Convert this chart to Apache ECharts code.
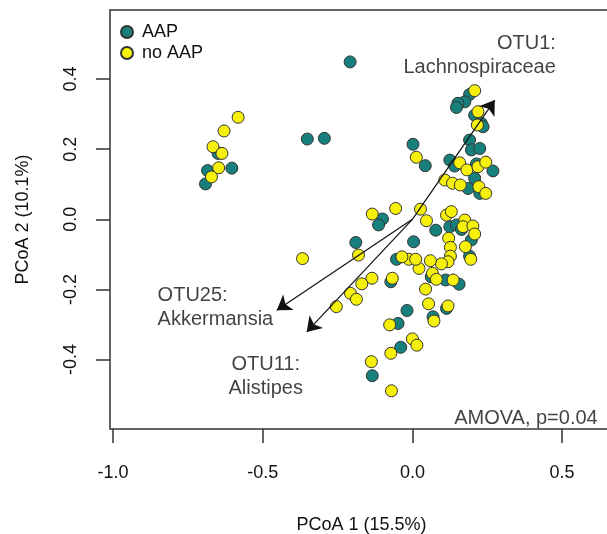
<!DOCTYPE html>
<html>
<head>
<meta charset="utf-8">
<script src="https://cdn.jsdelivr.net/npm/echarts@6/dist/echarts.min.js"></script>
<style>
  html, body { margin: 0; padding: 0; background: #fff; }
  #chart { width: 607px; height: 534px; }
</style>
</head>
<body>
<div id="chart"></div>
<script>
// PCoA coordinates, group AAP
var aapPoints = [
  [-0.208, 0.449], [-0.649, 0.188], [-0.684, 0.139], [-0.603, 0.146], [-0.691, 0.101],
  [-0.351, 0.229], [-0.294, 0.231], [0.191, 0.356], [0.175, 0.335], [0.152, 0.331],
  [0.147, 0.319], [0.208, 0.297], [0.230, 0.274], [0.236, 0.264], [0.191, 0.226],
  [0.197, 0.198], [0.225, 0.202], [0.002, 0.214], [0.043, 0.153], [0.125, 0.169],
  [0.141, 0.152], [0.214, 0.158], [0.269, 0.138], [0.208, 0.117], [0.186, 0.088],
  [0.225, 0.074], [0.078, -0.031], [0.004, -0.064], [0.125, -0.021], [0.147, -0.016],
  [0.164, -0.029], [0.197, -0.059], [0.191, -0.105], [0.063, -0.164], [0.111, -0.173],
  [0.156, -0.185], [0.114, -0.254], [0.069, -0.278], [-0.018, -0.260], [-0.100, 0.001],
  [-0.113, -0.016], [-0.189, -0.066], [-0.053, -0.114], [-0.072, -0.178], [-0.048, -0.297],
  [-0.039, -0.365], [-0.134, -0.446]
];
// PCoA coordinates, group no AAP
var noAapPoints = [
  [-0.582, 0.291], [-0.629, 0.252], [-0.666, 0.207], [-0.636, 0.188], [-0.647, 0.147],
  [-0.671, 0.121], [0.208, 0.367], [0.219, 0.307], [0.217, 0.269], [0.013, 0.177],
  [0.158, 0.161], [0.182, 0.141], [0.219, 0.150], [0.245, 0.163], [0.108, 0.112],
  [0.134, 0.103], [0.160, 0.098], [0.222, 0.093], [0.245, 0.074], [0.027, 0.029],
  [0.047, -0.004], [0.114, 0.012], [0.130, 0.022], [0.175, -0.002], [0.169, -0.021],
  [0.202, -0.019], [0.208, -0.042], [0.121, -0.054], [0.127, -0.080], [0.177, -0.078],
  [0.127, -0.105], [0.195, -0.114], [0.119, -0.121], [0.097, -0.127], [0.060, -0.118],
  [0.022, -0.140], [-0.012, -0.114], [0.011, -0.114], [-0.035, -0.107], [0.067, -0.154],
  [0.080, -0.171], [0.136, -0.173], [0.044, -0.199], [0.054, -0.241], [0.119, -0.247],
  [0.072, -0.290], [0.000, -0.341], [-0.134, 0.015], [-0.056, 0.031], [-0.180, -0.102],
  [-0.367, -0.112], [-0.067, -0.168], [-0.135, -0.168], [-0.169, -0.184], [-0.207, -0.211],
  [-0.187, -0.228], [-0.254, -0.249], [-0.076, -0.301], [-0.072, -0.382], [0.015, -0.359],
  [-0.137, -0.406], [-0.070, -0.489]
];
// OTU loading arrows (tip coordinates, start at origin)
var arrowTips = [[0.275, 0.340], [-0.453, -0.259], [-0.353, -0.321]];
// annotation texts and anchors
var noteTexts = ['OTU1:\nLachnospiraceae', 'OTU25:\nAkkermansia', 'OTU11:\nAlistipes', 'AMOVA, p=0.04'];
var noteAnchors = [[0.479, 0.468], [-0.851, -0.251], [-0.490, -0.449], [0.619, -0.567]];
var notePos = ['left', 'right', 'inside', 'left'];
var xTicks = [-1.0, -0.5, 0.0, 0.5];
var yTicks = [-0.4, -0.2, 0.0, 0.2, 0.4];

var FONT = 'Liberation Sans';
var myChart = echarts.init(document.getElementById('chart'));

var arrowData = arrowTips.map(function (t) {
  return { coords: [[0, 0], t] };
});
var noteData = noteAnchors.map(function (a, i) {
  return {
    value: a,
    label: { position: notePos[i], formatter: noteTexts[i] }
  };
});

var option = {
  animation: false,
  textStyle: { fontFamily: FONT },
  grid: {
    left: 110, top: 10, width: 503, height: 419,
    outerBoundsMode: 'none', containLabel: false,
    show: true, borderColor: '#333', borderWidth: 1.5
  },
  legend: {
    left: 115, top: 18, orient: 'vertical',
    itemWidth: 12, itemHeight: 12, itemGap: 3,
    data: ['AAP', 'no AAP'],
    icon: 'circle',
    textStyle: { fontSize: 18, color: '#111', fontFamily: FONT, padding: [0, 0, 0, 4] }
  },
  xAxis: {
    type: 'value', min: -1.01, max: 0.67,
    name: 'PCoA 1 (15.5%)', nameLocation: 'middle', nameGap: 87,
    nameTextStyle: { fontSize: 18, color: '#111', fontFamily: FONT },
    axisLine: { show: false, onZero: false },
    axisTick: { show: true, length: 14, customValues: xTicks, lineStyle: { color: '#333', width: 1.5 } },
    axisLabel: {
      customValues: xTicks, margin: 35, fontSize: 18, color: '#111', fontFamily: FONT,
      formatter: function (v) { return v.toFixed(1); }
    },
    splitLine: { show: false }
  },
  yAxis: {
    type: 'value', min: -0.598, max: 0.597,
    name: 'PCoA 2 (10.1%)', nameLocation: 'middle', nameGap: 78, nameRotate: 90,
    nameTextStyle: { fontSize: 18, color: '#111', fontFamily: FONT },
    axisLine: { show: false, onZero: false },
    axisTick: { show: true, length: 14, customValues: yTicks, lineStyle: { color: '#333', width: 1.5 } },
    axisLabel: {
      customValues: yTicks, margin: 30, rotate: 90, fontSize: 18, color: '#111', fontFamily: FONT,
      formatter: function (v) { return v.toFixed(1); }
    },
    splitLine: { show: false }
  },
  series: [
    {
      name: 'AAP', type: 'scatter', data: aapPoints, symbolSize: 12, z: 3,
      itemStyle: { color: '#17807d', borderColor: '#333', borderWidth: 1, opacity: 1 }
    },
    {
      name: 'no AAP', type: 'scatter', data: noAapPoints, symbolSize: 12, z: 3,
      itemStyle: { color: '#f7f00a', borderColor: '#333', borderWidth: 1, opacity: 1 }
    },
    {
      name: 'arrows', type: 'lines', coordinateSystem: 'cartesian2d', z: 4,
      symbol: ['none', 'arrow'], symbolSize: 14,
      lineStyle: { color: '#111', width: 1.2, opacity: 1 },
      data: arrowData
    },
    {
      name: 'notes', type: 'scatter', symbolSize: 0, z: 5, silent: true,
      label: { show: true, distance: 0, fontSize: 20, lineHeight: 24, color: '#111', fontFamily: FONT },
      data: noteData
    }
  ]
};
myChart.setOption(option);
window.onresize = myChart.resize;
</script>
</body>
</html>
